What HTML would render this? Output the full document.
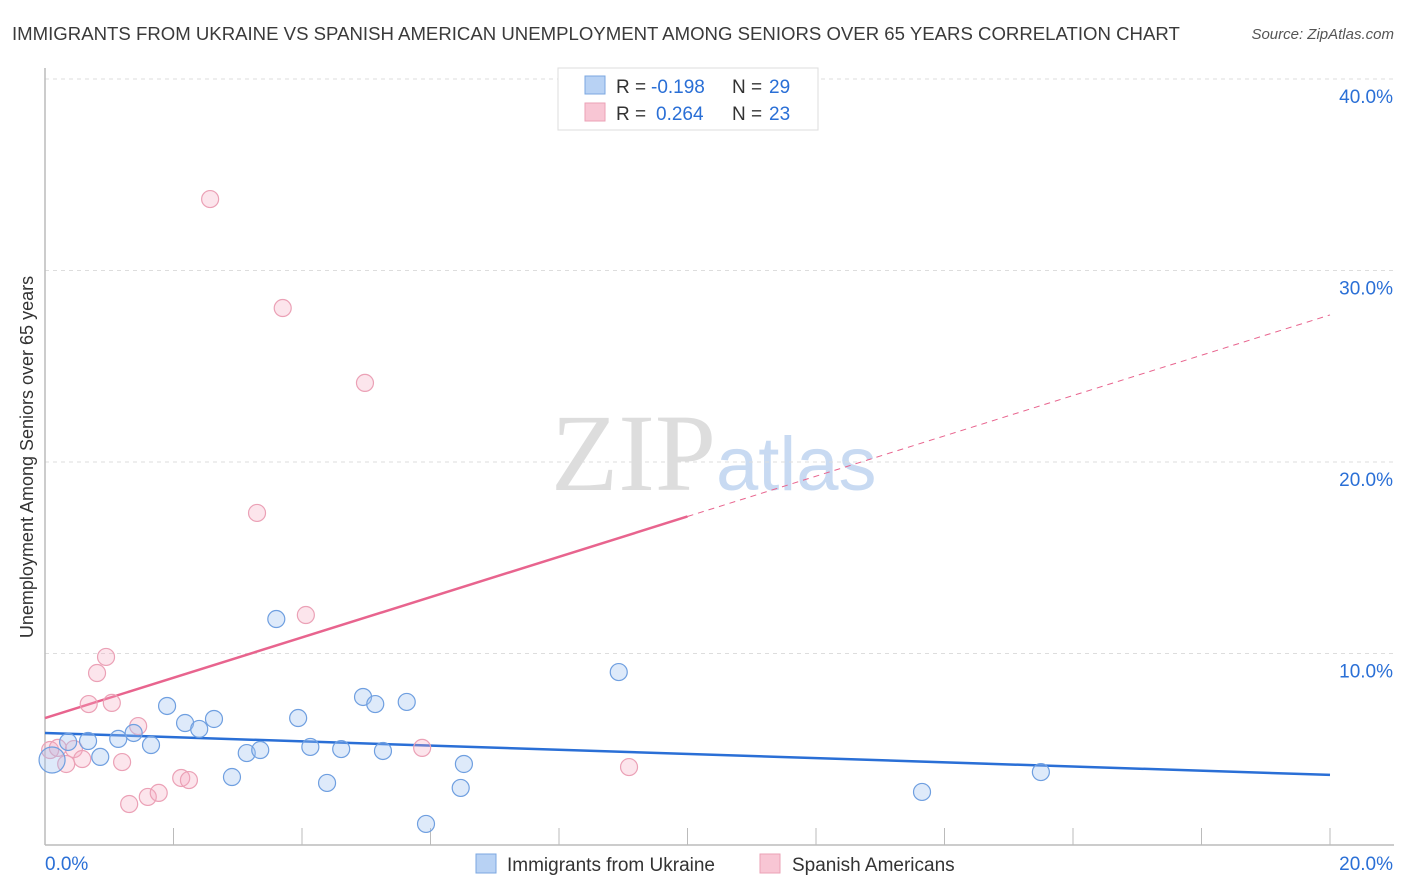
<!DOCTYPE html>
<html><head><meta charset="utf-8"><style>
body{margin:0;background:#fff;font-family:"Liberation Sans",sans-serif;}
svg{display:block}
</style></head><body>
<svg id="chart" width="1406" height="892">
<text x="12" y="40" font-size="18.6" fill="#3a3a3a">IMMIGRANTS FROM UKRAINE VS SPANISH AMERICAN UNEMPLOYMENT AMONG SENIORS OVER 65 YEARS CORRELATION CHART</text>
<text x="1394" y="39" font-size="15" fill="#555" text-anchor="end" font-style="italic">Source: ZipAtlas.com</text>
<text x="0" y="0" transform="translate(33,457) rotate(-90)" font-size="18" fill="#333" text-anchor="middle">Unemployment Among Seniors over 65 years</text>
<text x="716" y="490" font-size="110" fill="#ddd" text-anchor="end" font-family="Liberation Serif,serif">ZIP</text>
<text x="716" y="490" font-size="76" fill="#c8daf2">atlas</text>
<g id="grid"></g><g id="axes"></g><g id="lines"></g><g id="pts"></g>
<g>
<rect x="558" y="68" width="260" height="62" fill="#fff" stroke="#ddd"/>
<rect x="585" y="76" width="20" height="18" fill="#b8d2f4" stroke="#7ba7e0"/>
<text x="616" y="93" font-size="19" fill="#333">R =</text>
<text x="651" y="93" font-size="19" fill="#2a6fd6">-0.198</text>
<text x="732" y="93" font-size="19" fill="#333">N =</text>
<text x="769" y="93" font-size="19" fill="#2a6fd6">29</text>
<rect x="585" y="103" width="20" height="18" fill="#f8c6d4" stroke="#eba1b6"/>
<text x="616" y="120" font-size="19" fill="#333">R =</text>
<text x="656" y="120" font-size="19" fill="#2a6fd6">0.264</text>
<text x="732" y="120" font-size="19" fill="#333">N =</text>
<text x="769" y="120" font-size="19" fill="#2a6fd6">23</text>
</g>
<g>
<rect x="476" y="854" width="20" height="19" fill="#b8d2f4" stroke="#7ba7e0"/>
<text x="507" y="871" font-size="19" fill="#333">Immigrants from Ukraine</text>
<rect x="760" y="854" width="20" height="19" fill="#f8c6d4" stroke="#eba1b6"/>
<text x="792" y="871" font-size="19" fill="#333">Spanish Americans</text>
</g>
</svg>
<script>
const blueX=[0.11,0.36,0.67,0.86,1.14,1.38,1.65,1.90,2.18,2.40,2.63,2.91,3.14,3.35,3.60,3.94,4.13,4.39,4.61,4.95,5.14,5.26,5.63,5.93,6.47,6.52,8.93,13.65,15.50];
const blueY=[4.44,5.38,5.43,4.60,5.54,5.85,5.22,7.26,6.37,6.06,6.58,3.55,4.80,4.96,11.80,6.63,5.12,3.24,5.01,7.73,7.36,4.91,7.47,1.10,2.98,4.23,9.03,2.77,3.81];
const pinkX=[0.08,0.20,0.33,0.45,0.58,0.68,0.81,0.95,1.04,1.20,1.31,1.45,1.60,1.77,2.12,2.24,2.57,3.30,3.70,4.06,4.98,5.87,9.09];
const pinkY=[4.96,5.07,4.23,5.01,4.49,7.36,8.98,9.82,7.42,4.33,2.14,6.21,2.51,2.72,3.50,3.39,33.73,17.34,28.04,12.01,24.13,5.07,4.07];
const blueTrend=[5.85,3.66];
const pinkTrend=[6.63,27.68];
const yTicks=[10,20,30,40];
const yTickLabels=["10.0%","20.0%","30.0%","40.0%"];
const xTicks=[0,2,4,6,8,10,12,14,16,18,20];
const NS="http://www.w3.org/2000/svg";
const sx=v=>45+v*(1285/20), sy=v=>845-v*19.15;
function mk(p,t,a){const e=document.createElementNS(NS,t);for(const k in a)e.setAttribute(k,a[k]);p.appendChild(e);return e;}
const G=id=>document.getElementById(id);
yTicks.forEach((t,i)=>{
 const l=mk(G('grid'),'line',{x1:45,x2:1394,y1:sy(t),y2:sy(t),stroke:'#ddd','stroke-dasharray':'4,4'});
 
 
 const tx=mk(G('grid'),'text',{x:1393,y:sy(t)+24,'font-size':19,fill:'#2a6fd6','text-anchor':'end'});
 tx.textContent=yTickLabels[i];
 
 
});
mk(G('axes'),'line',{x1:45,x2:45,y1:68,y2:845,stroke:'#bbb','stroke-width':1.5});
mk(G('axes'),'line',{x1:45,x2:1394,y1:845,y2:845,stroke:'#bbb','stroke-width':1.5});
xTicks.forEach(t=>{
 const l=mk(G('axes'),'line',{x1:sx(t),x2:sx(t),y1:828,y2:845,stroke:'#bbb'});
 
 
});
[[0,'0.0%','start',45],[20,'20.0%','end',1393]].forEach(d=>{
 const tx=mk(G('axes'),'text',{x:d[3],y:870,'font-size':19,fill:'#2a6fd6','text-anchor':d[2]});
 tx.textContent=d[1];
 
 
});
let b=mk(G('lines'),'line',{x1:sx(0),y1:sy(blueTrend[0]),x2:sx(20),y2:sy(blueTrend[1]),stroke:'#2a6fd6','stroke-width':2.5});


const pAt=x=>pinkTrend[0]+(pinkTrend[1]-pinkTrend[0])*x/20;
let p1=mk(G('lines'),'line',{x1:sx(0),y1:sy(pAt(0)),x2:sx(10),y2:sy(pAt(10)),stroke:'#e8648e','stroke-width':2.5});


let p2=mk(G('lines'),'line',{x1:sx(10),y1:sy(pAt(10)),x2:sx(20),y2:sy(pAt(20)),stroke:'#e8648e','stroke-width':1,'stroke-dasharray':'6,5'});


pinkX.forEach((x,i)=>{
 const c=mk(G('pts'),'circle',{cx:sx(x),cy:sy(pinkY[i]),r:8.5,fill:'rgba(245,170,192,0.3)',stroke:'#eba1b6','stroke-width':1.2});
 
 
});
blueX.forEach((x,i)=>{
 const c=mk(G('pts'),'circle',{cx:sx(x),cy:sy(blueY[i]),r:i==0?13:8.5,fill:'rgba(160,195,240,0.35)',stroke:'#6f9fe0','stroke-width':1.2});
 
 
});
</script>
</body></html>
